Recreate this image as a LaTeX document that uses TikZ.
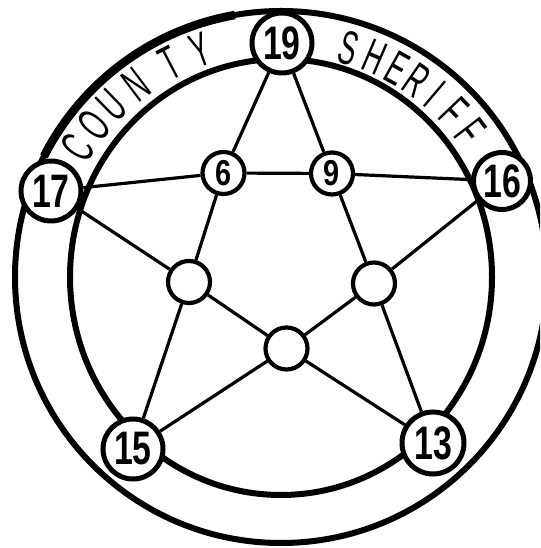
\documentclass[tikz,border=0pt]{standalone}
\usepackage{fontspec}
\setmainfont{Liberation Sans}
\begin{document}
\begin{tikzpicture}[x=1pt,y=1pt,
  band/.style={line width=6pt},
  edge/.style={line width=3.2pt},
  bignum/.style={circle, draw, line width=5pt, fill=white, minimum size=60pt, inner sep=0pt, font=\bfseries\fontsize{47}{47}\selectfont},
  smallnum/.style={circle, draw, line width=4.2pt, fill=white, minimum size=42pt, inner sep=0pt, font=\bfseries\fontsize{36}{36}\selectfont},
  bandletter/.style={inner sep=0pt, font=\fontsize{48}{48}\selectfont}
]
\useasboundingbox (0,0) rectangle (540,548);
\clip (0,0) rectangle (540,548);
\coordinate (c) at (281,271);
% badge band
\draw[band] (c) circle[radius=266];
\draw[line width=8.5pt] ([shift={(c)}]153:266) arc[start angle=153, end angle=100, radius=266];
\draw[band] (c) ellipse[x radius=211, y radius=218];
% lettering
\foreach \ch/\ang [count=\i] in {C/147.5, O/141, U/134.5, N/127, T/117.5, Y/109.5}
  \node[bandletter, rotate=\ang-90] (cw\i) at ([shift={(c)}]\ang:241) {\scalebox{0.55}[1]{\ch}};
\foreach \ch/\ang [count=\i] in {S/73.5, H/66.8, E/60.8, R/55.3, I/49.8, F/43.8, F/37.5}
  \node[bandletter, rotate=\ang-90] (sw\i) at ([shift={(c)}]\ang:239) {\scalebox{0.55}[1]{\ch}};
% numbered nodes
\node[bignum] (n19) at (282,505) {\scalebox{0.72}[1]{19}};
\node[bignum, minimum size=57pt] (n16) at (502,367) {\scalebox{0.72}[1]{16}};
\node[bignum, minimum size=62pt] (n13) at (433,105) {\scalebox{0.72}[1]{13}};
\node[bignum] (n15) at (133,99) {\scalebox{0.72}[1]{15}};
\node[bignum] (n17) at (51,357) {\scalebox{0.72}[1]{17}};
\node[smallnum] (n6) at (223.5,375) {\scalebox{0.8}[1]{6}};
\node[smallnum] (n9) at (332,374.5) {\scalebox{0.8}[1]{9}};
\node[smallnum] (nL) at (189,266) {};
\node[smallnum] (nR) at (374,264.5) {};
\node[smallnum] (nB) at (286.5,199.5) {};
% star lines
\draw[edge] (n19)--(n6) (n6)--(nL) (nL)--(n15)
  (n19)--(n9) (n9)--(nR) (nR)--(n13)
  (n17)--(n6) (n6)--(n9) (n9)--(n16)
  (n17)--(nL) (nL)--(nB) (nB)--(n13)
  (n15)--(nB) (nB)--(nR) (nR)--(n16);
\end{tikzpicture}
\end{document}
